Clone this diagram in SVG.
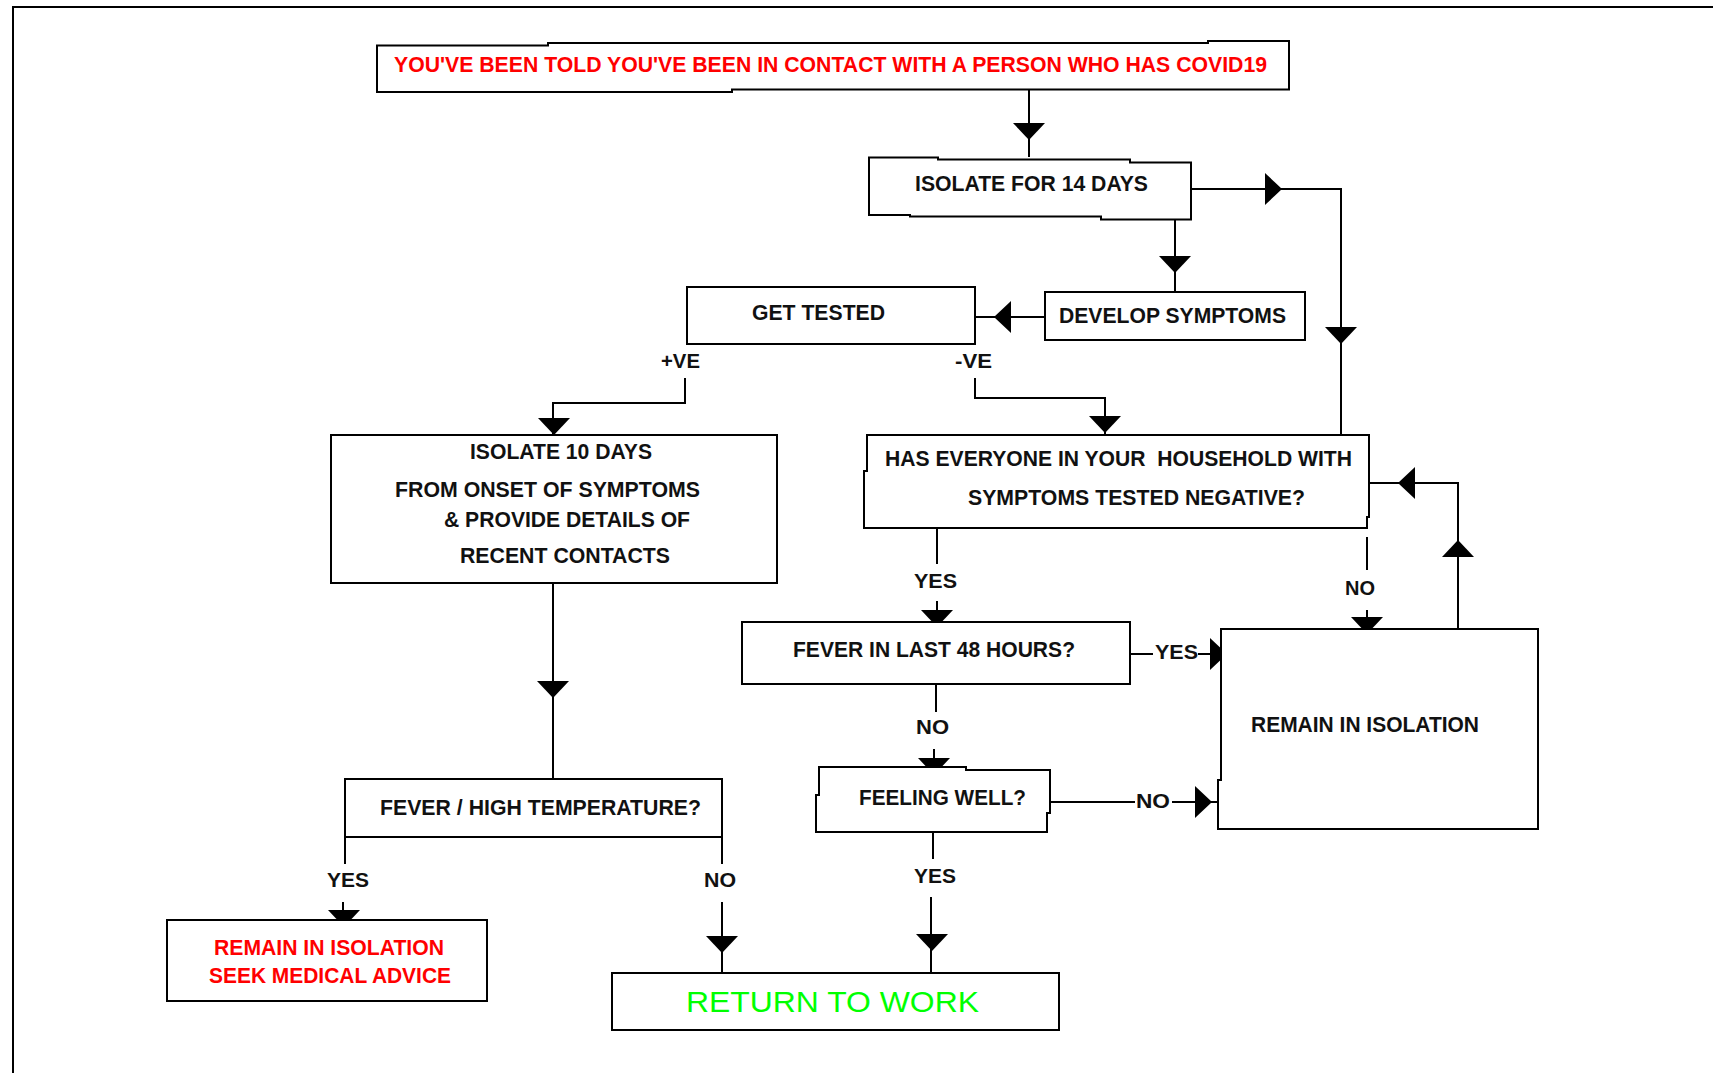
<svg xmlns="http://www.w3.org/2000/svg" xmlns:xlink="http://www.w3.org/1999/xlink" width="1713" height="1073" viewBox="0 0 1713 1073">
<style>
.box{fill:#fff;stroke:#000;stroke-width:2}
.ln{fill:none;stroke:#000;stroke-width:2}
.ah{fill:#000}
text{font-family:"Liberation Sans",Arial,sans-serif;font-weight:bold;font-size:21.5px;fill:#111}
.red{fill:#ff0000}
.lbl{font-size:21px}
.green{fill:#00ff00;font-weight:normal;font-size:29px}
</style>
<defs>
<path id="ad" d="M-16,0 L16,0 L0,17 Z"/>
</defs>
<rect x="13" y="7" width="1800" height="1200" fill="none" stroke="#000" stroke-width="2"/>

<g id="connectors">
<path class="ln" d="M1029,90 V157"/>
<path class="ln" d="M1191,189 H1341 V435"/>
<path class="ln" d="M1175,219 V292"/>
<path class="ln" d="M1045,317 H975"/>
<path class="ln" d="M685,378 V403 H553 V435"/>
<path class="ln" d="M975,378 V398 H1105 V435"/>
<path class="ln" d="M1458,629 V483 H1369"/>
<path class="ln" d="M937,528 V564 M937,601 V622"/>
<path class="ln" d="M1367,537 V570 M1367,610 V629"/>
<path class="ln" d="M1130,654 H1153 M1198,654 H1212"/>
<path class="ln" d="M936,684 V712 M934,749 V767"/>
<path class="ln" d="M1050,802 H1135 M1172,802 H1218"/>
<path class="ln" d="M933,832 V859 M931,897 V973"/>
<path class="ln" d="M553,583 V779"/>
<path class="ln" d="M345,837 V864 M343,902 V920"/>
<path class="ln" d="M722,837 V864 M722,902 V973"/>
<use href="#ad" class="ah" transform="translate(1029,123)"/>
<use href="#ad" class="ah" transform="translate(1265,189) rotate(-90)"/>
<use href="#ad" class="ah" transform="translate(1341,327)"/>
<use href="#ad" class="ah" transform="translate(1175,256)"/>
<use href="#ad" class="ah" transform="translate(1011,317) rotate(90)"/>
<use href="#ad" class="ah" transform="translate(554,418)"/>
<use href="#ad" class="ah" transform="translate(1105,416)"/>
<use href="#ad" class="ah" transform="translate(1415,483) rotate(90)"/>
<use href="#ad" class="ah" transform="translate(1458,557) rotate(180)"/>
<use href="#ad" class="ah" transform="translate(937,610)"/>
<use href="#ad" class="ah" transform="translate(1367,617)"/>
<use href="#ad" class="ah" transform="translate(1210,654) rotate(-90)"/>
<use href="#ad" class="ah" transform="translate(934,758)"/>
<use href="#ad" class="ah" transform="translate(1195,802) rotate(-90)"/>
<use href="#ad" class="ah" transform="translate(932,934)"/>
<use href="#ad" class="ah" transform="translate(553,681)"/>
<use href="#ad" class="ah" transform="translate(344,910)"/>
<use href="#ad" class="ah" transform="translate(722,936)"/>
<text class="lbl" x="661" y="368" textLength="39" lengthAdjust="spacingAndGlyphs">+VE</text>
<text class="lbl" x="955" y="368" textLength="37" lengthAdjust="spacingAndGlyphs">-VE</text>
<text class="lbl" x="914" y="588" textLength="43" lengthAdjust="spacingAndGlyphs">YES</text>
<text class="lbl" x="1345" y="595" textLength="30" lengthAdjust="spacingAndGlyphs">NO</text>
<text class="lbl" x="1155" y="659" textLength="43" lengthAdjust="spacingAndGlyphs">YES</text>
<text class="lbl" x="916" y="734" textLength="33" lengthAdjust="spacingAndGlyphs">NO</text>
<text class="lbl" x="1136" y="808" textLength="34" lengthAdjust="spacingAndGlyphs">NO</text>
<text class="lbl" x="914" y="883" textLength="42" lengthAdjust="spacingAndGlyphs">YES</text>
<text class="lbl" x="327" y="887" textLength="42" lengthAdjust="spacingAndGlyphs">YES</text>
<text class="lbl" x="704" y="887" textLength="32" lengthAdjust="spacingAndGlyphs">NO</text>
</g>

<g id="n-contact">
<path class="box" d="M377,45.5 H548 V43 H1208 V41 H1289 V89.5 H732 V92 H377 Z"/>
<text class="red" x="394" y="72" font-size="22" textLength="873" lengthAdjust="spacingAndGlyphs">YOU'VE BEEN TOLD YOU'VE BEEN IN CONTACT WITH A PERSON WHO HAS COVID19</text>
</g>
<g id="n-isolate14">
<path class="box" d="M869,157.5 H938 V159.5 H1130 V162.5 H1191 V219.5 H1101 V216.5 H910 V215 H869 Z"/>
<text x="915" y="191" textLength="233" lengthAdjust="spacingAndGlyphs">ISOLATE FOR 14 DAYS</text>
</g>
<g id="n-develop">
<rect class="box" x="1045" y="292" width="260" height="48"/>
<text x="1059" y="323" textLength="227" lengthAdjust="spacingAndGlyphs">DEVELOP SYMPTOMS</text>
</g>
<g id="n-gettested">
<rect class="box" x="687" y="287" width="288" height="57"/>
<text x="752" y="320" textLength="133" lengthAdjust="spacingAndGlyphs">GET TESTED</text>
</g>
<g id="n-isolate10">
<rect class="box" x="331" y="435" width="446" height="148"/>
<text x="470" y="459" textLength="182" lengthAdjust="spacingAndGlyphs">ISOLATE 10 DAYS</text>
<text x="395" y="497" textLength="305" lengthAdjust="spacingAndGlyphs">FROM ONSET OF SYMPTOMS</text>
<text x="444" y="527" textLength="246" lengthAdjust="spacingAndGlyphs">&amp; PROVIDE DETAILS OF</text>
<text x="460" y="563" textLength="210" lengthAdjust="spacingAndGlyphs">RECENT CONTACTS</text>
</g>
<g id="n-household">
<path class="box" d="M867,435 H1369 V517 H1367 V528 H864 V471 H867 Z"/>
<text x="885" y="466" textLength="467" lengthAdjust="spacingAndGlyphs" xml:space="preserve">HAS EVERYONE IN YOUR  HOUSEHOLD WITH</text>
<text x="968" y="505" textLength="337" lengthAdjust="spacingAndGlyphs">SYMPTOMS TESTED NEGATIVE?</text>
</g>
<g id="n-fever48">
<rect class="box" x="742" y="622" width="388" height="62"/>
<text x="793" y="657" textLength="282" lengthAdjust="spacingAndGlyphs">FEVER IN LAST 48 HOURS?</text>
</g>
<g id="n-remain">
<path class="box" d="M1221,629 H1538 V829 H1218 V780 H1221 Z"/>
<text x="1251" y="732" textLength="228" lengthAdjust="spacingAndGlyphs">REMAIN IN ISOLATION</text>
</g>
<g id="n-feeling">
<path class="box" d="M819,767 H966 V770 H1050 V813 H1047 V832 H816 V795 H819 Z"/>
<text x="859" y="805" textLength="167" lengthAdjust="spacingAndGlyphs">FEELING WELL?</text>
</g>
<g id="n-feverhigh">
<rect class="box" x="345" y="779" width="377" height="58"/>
<text x="380" y="815" textLength="321" lengthAdjust="spacingAndGlyphs">FEVER / HIGH TEMPERATURE?</text>
</g>
<g id="n-seek">
<rect class="box" x="167" y="920" width="320" height="81"/>
<text class="red" x="214" y="955" font-size="20" textLength="230" lengthAdjust="spacingAndGlyphs">REMAIN IN ISOLATION</text>
<text class="red" x="209" y="983" font-size="20" textLength="242" lengthAdjust="spacingAndGlyphs">SEEK MEDICAL ADVICE</text>
</g>
<g id="n-return">
<rect class="box" x="612" y="973" width="447" height="57"/>
<text class="green" x="686" y="1012" textLength="293" lengthAdjust="spacingAndGlyphs">RETURN TO WORK</text>
</g>
</svg>
